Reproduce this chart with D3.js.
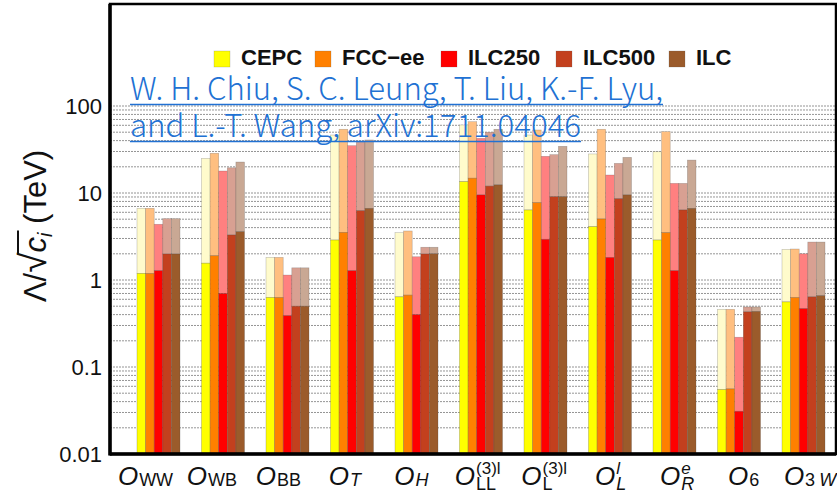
<!DOCTYPE html>
<html>
<head>
<meta charset="utf-8">
<script src="https://cdn.jsdelivr.net/npm/d3@7"></script>
<style>
  html, body { margin: 0; padding: 0; background: #fff; }
  svg { display: block; }
</style>
</head>
<body>
<svg id="chart" width="837" height="494"></svg>
<script>
// Operator categories (x axis) and their label pieces
const categories = ["WW", "WB", "BB", "T", "H", "LL3", "L3", "Ll", "Re", "6", "3W"];
// subscript segments: [text, italic, extra left gap]
const labelSub = [
  [["WW", 0, 0]], [["WB", 0, 0]], [["BB", 0, 0]], [["T", 1, 0]], [["H", 1, 0]],
  [["LL", 0, 0]], [["L", 0, 0]], [["L", 1, 0]], [["R", 1, 0]], [["6", 0, 0]],
  [["3", 0, 0], ["W", 1, 4]]
];
const labelSup = ["", "", "", "", "", "(3)l", "(3)l", "l", "e", "", ""];
const labelSupItalic = [0, 0, 0, 0, 0, 0, 0, 1, 1, 0, 0];

// Colliders
const series = ["CEPC", "FCC\u2212ee", "ILC250", "ILC500", "ILC"];
const solidColors = ["#ffff00", "#ff8000", "#ff0000", "#c3401e", "#9b5b2b"];
const lightColors = ["#fffbcc", "#ffbf80", "#ff8080", "#d8a092", "#c9a894"];

// Reach in TeV: lower (solid) and upper (translucent) values per collider
const cepcLow   = [1.19, 1.56, 0.63, 2.88, 0.64, 13.5, 6.38, 4.1, 2.88, 0.055, 0.56];
const cepcHigh  = [6.67, 25.0, 1.82, 46.4, 3.5, 60.5, 46.4, 28.1, 29.8, 0.46, 2.25];
const fccLow    = [1.19, 1.90, 0.63, 3.53, 0.67, 14.8, 7.74, 5.03, 3.5, 0.056, 0.63];
const fccHigh   = [6.67, 28.6, 1.82, 54.0, 3.66, 66.0, 53.0, 54.0, 50.7, 0.46, 2.27];
const ilc250Low = [1.28, 0.70, 0.39, 1.28, 0.40, 9.5, 2.94, 1.82, 1.28, 0.031, 0.47];
const ilc250High= [4.37, 17.9, 1.14, 35.0, 1.85, 42.5, 26.4, 16.1, 12.9, 0.22, 2.0];
const ilc500Low = [1.99, 3.29, 0.50, 6.26, 1.99, 12.0, 9.07, 8.6, 6.38, 0.43, 0.64];
const ilc500High= [5.07, 19.5, 1.38, 38.3, 2.38, 49.9, 27.6, 21.9, 12.9, 0.49, 2.73];
const ilcLow    = [1.99, 3.59, 0.50, 6.67, 2.0, 12.4, 9.07, 9.5, 6.67, 0.436, 0.66];
const ilcHigh   = [5.07, 22.7, 1.38, 40.7, 2.38, 54.0, 34.4, 25.7, 23.9, 0.49, 2.73];

const lowValues = [cepcLow, fccLow, ilc250Low, ilc500Low, ilcLow];
const highValues = [cepcHigh, fccHigh, ilc250High, ilc500High, ilcHigh];

const yTicks = [0.01, 0.1, 1, 10, 100];
const yTickLabels = ["0.01", "0.1", "1", "10", "100"];

const citation = [
  "W. H. Chiu, S. C. Leung, T. Liu, K.-F. Lyu,",
  "and L.-T. Wang, arXiv:1711.04046"
];

// ---------------------------------------------------------------
const svg = d3.select("#chart");
const FONT = "'Liberation Sans', Arial, Helvetica, sans-serif";

const plotLeft = 110, plotRight = 836, plotTop = 4, plotBottom = 454;

const y = d3.scaleLog().domain([0.01, 100]).range([plotBottom, 106]);
const x = d3.scaleBand().domain(categories).range([126.25, 835.75])
  .paddingInner(1 / 3).paddingOuter(1 / 6);
const xs = d3.scaleBand().domain(series).range([0, x.bandwidth()]);
const xLabel = d3.scalePoint().domain(categories).range([145.5, 810]);

// Dashed grid at every logarithmic subdivision
const gridVals = [];
[0.01, 0.1, 1, 10].forEach(dec => {
  for (let k = 1; k <= 9; k++) if (!(dec === 0.01 && k === 1)) gridVals.push(k * dec);
});
gridVals.push(100);
svg.append("g").selectAll("line").data(gridVals).join("line")
  .attr("x1", plotLeft).attr("x2", plotRight)
  .attr("y1", d => y(d)).attr("y2", d => y(d))
  .attr("stroke", "#7a7a7a").attr("stroke-width", 0.8)
  .attr("stroke-dasharray", "2,1");

// Bars: solid part up to the lower reach, translucent part up to the upper reach
const barData = [];
categories.forEach((c, i) => {
  series.forEach((s, j) => {
    barData.push({ c, s, j, low: lowValues[j][i], high: highValues[j][i] });
  });
});
const gBars = svg.append("g");
gBars.selectAll("rect.hi").data(barData).join("rect")
  .attr("class", "hi")
  .attr("x", d => x(d.c) + xs(d.s))
  .attr("width", xs.bandwidth())
  .attr("y", d => y(d.high))
  .attr("height", d => y(d.low) - y(d.high))
  .attr("fill", d => lightColors[d.j])
  .attr("stroke", "rgba(70,70,70,0.35)").attr("stroke-width", 0.6);
gBars.selectAll("rect.lo").data(barData).join("rect")
  .attr("class", "lo")
  .attr("x", d => x(d.c) + xs(d.s))
  .attr("width", xs.bandwidth())
  .attr("y", d => y(d.low))
  .attr("height", d => y(0.01) - y(d.low))
  .attr("fill", d => solidColors[d.j])
  .attr("stroke", "rgba(70,70,70,0.4)").attr("stroke-width", 0.6);

// Frame
svg.append("rect")
  .attr("x", plotLeft).attr("y", plotTop).attr("width", plotRight - plotLeft).attr("height", plotBottom - plotTop)
  .attr("fill", "none").attr("stroke", "#000").attr("stroke-width", 2.5);
svg.append("line").attr("x1", plotLeft).attr("x2", plotLeft).attr("y1", plotTop).attr("y2", plotBottom + 1.5)
  .attr("stroke", "#000").attr("stroke-width", 3.5);
svg.append("line").attr("x1", plotLeft).attr("x2", plotRight).attr("y1", plotBottom).attr("y2", plotBottom)
  .attr("stroke", "#000").attr("stroke-width", 3.5);

// Y axis labels
const yAxis = d3.axisLeft(y).tickValues(yTicks)
  .tickFormat((d, i) => yTickLabels[i]).tickSize(0).tickPadding(8);
const gy = svg.append("g").attr("transform", `translate(${plotLeft},0)`).call(yAxis);
gy.select(".domain").remove();
gy.selectAll("text").style("font-family", FONT).style("font-size", "22px").attr("fill", "#111");

// Y axis title: Λ/√c_i (TeV)
const gTitle = svg.append("g").attr("transform", "translate(46,226) rotate(-90)");
const yt = gTitle.append("text").attr("text-anchor", "middle")
  .style("font-family", FONT).style("font-size", "31px").attr("fill", "#111");
yt.append("tspan").text("\u039B/");
yt.append("tspan").text("\u221A").style("font-size", "37px");
yt.append("tspan").text("c").style("font-style", "italic");
yt.append("tspan").text("i").style("font-style", "italic").style("font-size", "20px").attr("dy", 6);
yt.append("tspan").text(" (TeV)").attr("dy", -6);
{
  const n = yt.node();
  const x0 = n.getStartPositionOfChar(3).x - 1.5;
  const x1 = n.getEndPositionOfChar(4).x + 2;
  gTitle.append("line").attr("x1", x0).attr("x2", x1).attr("y1", -28).attr("y2", -28)
    .attr("stroke", "#111").attr("stroke-width", 2);
}

// X axis operator labels
const baseY = 485;
categories.forEach((c, i) => {
  const g = svg.append("g");
  const hasSup = labelSup[i] !== "";
  const o = g.append("text").attr("x", 0).attr("y", baseY).text("O")
    .style("font-family", FONT).style("font-size", "26px").style("font-style", "italic").attr("fill", "#111");
  const ow = o.node().getComputedTextLength();
  const sub = g.append("text").attr("x", ow + 1).attr("y", baseY + (hasSup ? 5 : 1))
    .style("font-family", FONT).style("font-size", "18px").attr("fill", "#111");
  labelSub[i].forEach(([t, it, gap]) => sub.append("tspan").text(t).attr("dx", gap)
    .style("font-style", it ? "italic" : "normal"));
  let w = ow + 1 + sub.node().getComputedTextLength() + d3.sum(labelSub[i], s => s[2]);
  if (hasSup) {
    const sup = g.append("text").attr("x", ow + 1).attr("y", baseY - 11).text(labelSup[i])
      .style("font-family", FONT).style("font-size", "17px")
      .style("font-style", labelSupItalic[i] ? "italic" : "normal").attr("fill", "#111");
    w = Math.max(w, ow + 1 + sup.node().getComputedTextLength());
  }
  g.attr("transform", `translate(${xLabel(c) - w / 2},0)`);
});

// Legend
const legendX = [214, 315, 441, 556, 669];
const gLeg = svg.append("g");
series.forEach((s, j) => {
  gLeg.append("rect").attr("x", legendX[j]).attr("y", 51).attr("width", 16).attr("height", 16)
    .attr("fill", solidColors[j]).attr("stroke", "rgba(90,90,90,0.35)").attr("stroke-width", 0.6);
  gLeg.append("text").attr("x", legendX[j] + 27).attr("y", 65).text(s)
    .style("font-family", FONT).style("font-size", "22px").style("font-weight", "bold").attr("fill", "#111");
});

// Citation
const citeBase = [100, 137];
const citeLen = [533, 451];
citation.forEach((t, k) => {
  svg.append("text").attr("x", 130).attr("y", citeBase[k]).text(t)
    .attr("textLength", citeLen[k]).attr("lengthAdjust", "spacingAndGlyphs")
    .style("font-family", "'Noto Sans CJK SC', 'Noto Sans', sans-serif")
    .style("font-weight", 300).style("font-size", "31px").attr("fill", "#2171d3");
  svg.append("line").attr("x1", 130).attr("x2", 130 + citeLen[k])
    .attr("y1", citeBase[k] + 4.5).attr("y2", citeBase[k] + 4.5)
    .attr("stroke", "#2171d3").attr("stroke-width", 1.6);
});
</script>
</body>
</html>
